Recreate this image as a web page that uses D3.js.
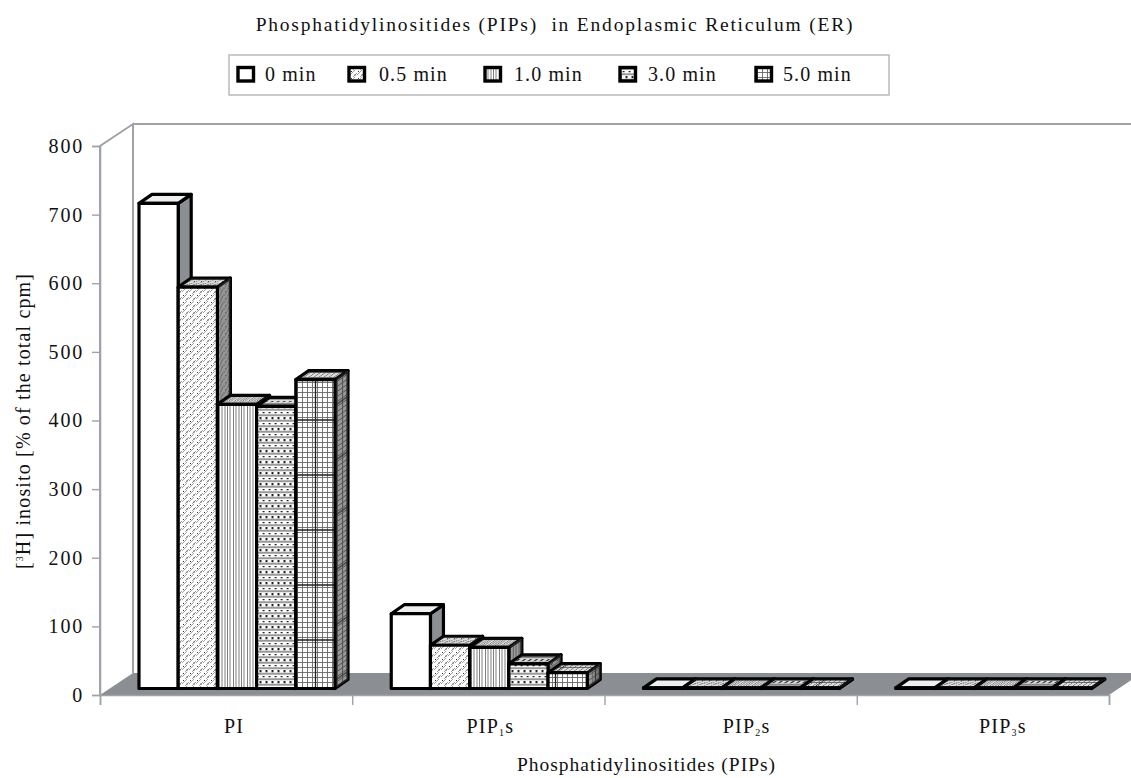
<!DOCTYPE html>
<html>
<head>
<meta charset="utf-8">
<script src="https://cdn.jsdelivr.net/npm/d3@7"></script>
<style>
  html, body { margin: 0; padding: 0; background: #fff; }
  svg { display: block; }
  text { font-family: "Liberation Serif", "Times New Roman", serif; fill: #111; }
</style>
</head>
<body>
<svg id="chart" width="1131" height="778"></svg>
<script>
// Values per time point, one array per series (order: PI, PIP1s, PIP2s, PIP3s)
const categories = ["PI", "PIP1s", "PIP2s", "PIP3s"];
const seriesNames = ["0 min", "0.5 min", "1.0 min", "3.0 min", "5.0 min"];
const min0 = [707, 109, 1, 1];
const min05 = [585, 63, 1, 1];
const min10 = [414, 60, 1, 1];
const min30 = [411, 36, 1, 1];
const min50 = [450, 23, 1, 1];
const seriesValues = [min0, min05, min10, min30, min50];
const yTicks = [0, 100, 200, 300, 400, 500, 600, 700, 800];

const svg = d3.select("#chart");
const defs = svg.append("defs");

// Frame of the 3D box
const plotLeft = 100, plotRight = 1109, plotBottom = 695, plotTop = 146;
const wallDx = 33, wallDy = -22;     // floor depth
const barDx = 13, barDy = -9;        // bar depth
const barLift = 6.5;                 // bars stand slightly in from the front edge

const y = d3.scaleLinear().domain([0, 800]).range([plotBottom, plotTop]);
const x0 = d3.scaleBand().domain(categories).range([plotLeft, plotRight]);
const x1 = d3.scaleBand().domain(seriesNames).range([39, 235]);

// Hatch fills: each draws one tile into a pattern element
const painters = [
  null,
  { w: 7, h: 7, draw(p) {
      p.append("path").attr("d", "M0 5L5 0M3 7L7 3").attr("stroke", "#9a9a9a").attr("stroke-width", 0.9);
      p.append("path").attr("d", "M1 1h1v1h-1zM4.5 4.5h1.2v1h-1.2z").attr("fill", "#333");
  }},
  { w: 14, h: 4, draw(p) {
      p.append("path").attr("d", "M1 0V4M3.5 0V4M6 0V4M9.5 0V4M12 0V4")
        .attr("stroke", "#808080").attr("stroke-width", 1);
  }},
  { w: 12, h: 11, draw(p) {
      p.append("path").attr("d", "M0 2.7H12M0 8.2H12").attr("stroke", "#999").attr("stroke-width", 2);
      p.append("path").attr("d", "M1.5 0h2v1.2h-2zM7.5 0h2v1.2h-2zM4.6 4.9h2v1.3h-2zM10.6 4.9h1.4v1.3h-1.4zM0 4.9h.6v1.3h-.6zM1.5 9.9h2v1.1h-2zM7.5 9.9h2v1.1h-2z")
        .attr("fill", "#222");
  }},
  { w: 40, h: 55, draw(p) {
      const grid = d3.path();
      d3.range(0, 40, 5).forEach(v => { grid.moveTo(v + 2.5, 0); grid.lineTo(v + 2.5, 55); });
      d3.range(0, 55, 5).forEach(v => { grid.moveTo(0, v + 2.5); grid.lineTo(40, v + 2.5); });
      p.append("path").attr("d", grid.toString()).attr("stroke", "#666").attr("stroke-width", 0.9);
      p.append("path").attr("d", "M35.5 0V55M0 35H40").attr("stroke", "#222").attr("stroke-width", 1.3);
  }}
];

const faceTransforms = { front: null, side: "skewY(-35)", top: "skewX(-55)" };

painters.forEach((painter, i) => {
  if (!painter) return;
  Object.entries(faceTransforms).forEach(([face, transform]) => {
    const pat = defs.append("pattern")
      .attr("id", `fill-${i}-${face}`)
      .attr("patternUnits", "userSpaceOnUse")
      .attr("width", painter.w).attr("height", painter.h);
    if (transform) pat.attr("patternTransform", transform);
    pat.append("rect").attr("width", painter.w).attr("height", painter.h).attr("fill", "#fff");
    painter.draw(pat);
  });
});

const fillFor = (i, face) => `url(#fill-${i}-${face})`;
const wallColor = "#9fa3a7", floorColor = "#8b8f93";

// Floor and the two visible walls
svg.append("path")
  .attr("d", `M${plotLeft},${plotBottom}L${plotLeft + wallDx},${plotBottom + wallDy}H${plotRight + wallDx}L${plotRight},${plotBottom}Z`)
  .attr("fill", floorColor);
svg.append("path")
  .attr("d", `M${plotLeft},${plotBottom}V${plotTop}L${plotLeft + wallDx},${plotTop + wallDy}V${plotBottom + wallDy}M${plotLeft + wallDx},${plotTop + wallDy}H${plotRight + wallDx}`)
  .attr("fill", "none").attr("stroke", wallColor).attr("stroke-width", 2);

// Axes
const yAxis = svg.append("g").attr("transform", `translate(${plotLeft},0)`)
  .call(d3.axisLeft(y).tickValues(yTicks).tickSize(8).tickPadding(8).tickFormat(d3.format("d")));
const tickScale = d3.scaleLinear().domain([0, categories.length]).range([plotLeft, plotRight]);
const xAxis = svg.append("g").attr("transform", `translate(0,${plotBottom})`)
  .call(d3.axisBottom(tickScale).tickValues(d3.range(categories.length + 1)).tickSize(10).tickFormat(""));
[yAxis, xAxis].forEach(a => {
  a.select(".domain").attr("stroke", wallColor).attr("stroke-width", 1.6);
  a.selectAll(".tick line").attr("stroke", wallColor).attr("stroke-width", 1.4);
});
yAxis.selectAll("text").attr("font-size", 20).attr("letter-spacing", 1.8)
  .style("font-family", '"Liberation Serif", serif');

// Bars, left to right so each one overlaps the side face of the previous
const barLayer = svg.append("g").attr("stroke", "#000").attr("stroke-width", 3.2).attr("stroke-linejoin", "round");
seriesNames.forEach((name, s) => {
  categories.forEach((cat, c) => {
    const value = seriesValues[s][c];
    const xa = x0(cat) + x1(name), xb = xa + x1.bandwidth();
    const yb = plotBottom - barLift, ya = y(value) - barLift;
    const g = barLayer.append("g");
    const plain = s === 0;
    const sideFace = `M${xb},${ya}L${xb + barDx},${ya + barDy}V${yb + barDy}L${xb},${yb}Z`;
    const topFace = `M${xa},${ya}L${xa + barDx},${ya + barDy}H${xb + barDx}L${xb},${ya}Z`;
    g.append("path").attr("d", sideFace).attr("fill", plain ? floorColor : fillFor(s, "side"));
    g.append("path").attr("d", topFace).attr("fill", plain ? "#eceef0" : fillFor(s, "top"));
    if (!plain) {
      // Shade the hatched side and top faces
      g.append("path").attr("d", sideFace).attr("fill", "#444").attr("fill-opacity", 0.55).attr("stroke", "none");
      g.append("path").attr("d", topFace).attr("fill", "#444").attr("fill-opacity", 0.18).attr("stroke", "none");
    }
    g.append("rect")
      .attr("x", xa).attr("y", ya)
      .attr("width", xb - xa).attr("height", yb - ya)
      .attr("fill", plain ? "#fff" : fillFor(s, "front"));
  });
});

// Category labels, with the digit set as a tiny subscript
const labelShift = i => 8 + 4 * i;
const catLabels = svg.append("g").attr("text-anchor", "middle").attr("font-size", 20).attr("letter-spacing", 1.2);
categories.forEach((cat, i) => {
  const t = catLabels.append("text")
    .attr("x", x0(cat) + x0.bandwidth() / 2 + labelShift(i))
    .attr("y", 733);
  const m = cat.match(/^(PIP)(\d)(s)$/);
  if (m) {
    t.append("tspan").text(m[1]);
    t.append("tspan").text(m[2]).attr("font-size", 10).attr("dy", 3);
    t.append("tspan").text(m[3]).attr("dy", -3);
  } else {
    t.text(cat);
  }
});

// Titles
svg.append("text").attr("x", 555).attr("y", 31).attr("text-anchor", "middle")
  .attr("font-size", 19.5).attr("letter-spacing", 1.8).attr("xml:space", "preserve")
  .text("Phosphatidylinositides (PIPs)  in Endoplasmic Reticulum (ER)");
svg.append("text").attr("x", 646.5).attr("y", 771).attr("text-anchor", "middle")
  .attr("font-size", 19.5).attr("letter-spacing", 1)
  .text("Phosphatidylinositides (PIPs)");

const yTitle = svg.append("text")
  .attr("transform", "translate(30,421) rotate(-90)")
  .attr("text-anchor", "middle").attr("font-size", 20).attr("letter-spacing", 1.15);
yTitle.append("tspan").text("[");
yTitle.append("tspan").text("3").attr("font-size", 10).attr("dy", -7);
yTitle.append("tspan").text("H] inosito [% of the total cpm]").attr("dy", 7);

// Legend
svg.append("rect").attr("x", 229).attr("y", 55).attr("width", 660).attr("height", 40)
  .attr("fill", "#fff").attr("stroke", "#b4b6b8").attr("stroke-width", 1.4);
const swatchX = d3.scaleOrdinal().domain(seriesNames).range([238, 349, 485, 620, 756]);
const legendTextX = d3.scaleOrdinal().domain(seriesNames).range([265, 379, 514, 648, 783]);
const legend = svg.append("g");
seriesNames.forEach((name, s) => {
  legend.append("rect")
    .attr("x", swatchX(name)).attr("y", 67.5).attr("width", 15.5).attr("height", 13.5)
    .attr("fill", s === 0 ? "#fff" : fillFor(s, "front"))
    .attr("stroke", "#000").attr("stroke-width", 3.4);
  legend.append("text")
    .attr("x", legendTextX(name)).attr("y", 81)
    .attr("font-size", 20).attr("letter-spacing", 1.1)
    .text(name);
});
</script>
</body>
</html>
